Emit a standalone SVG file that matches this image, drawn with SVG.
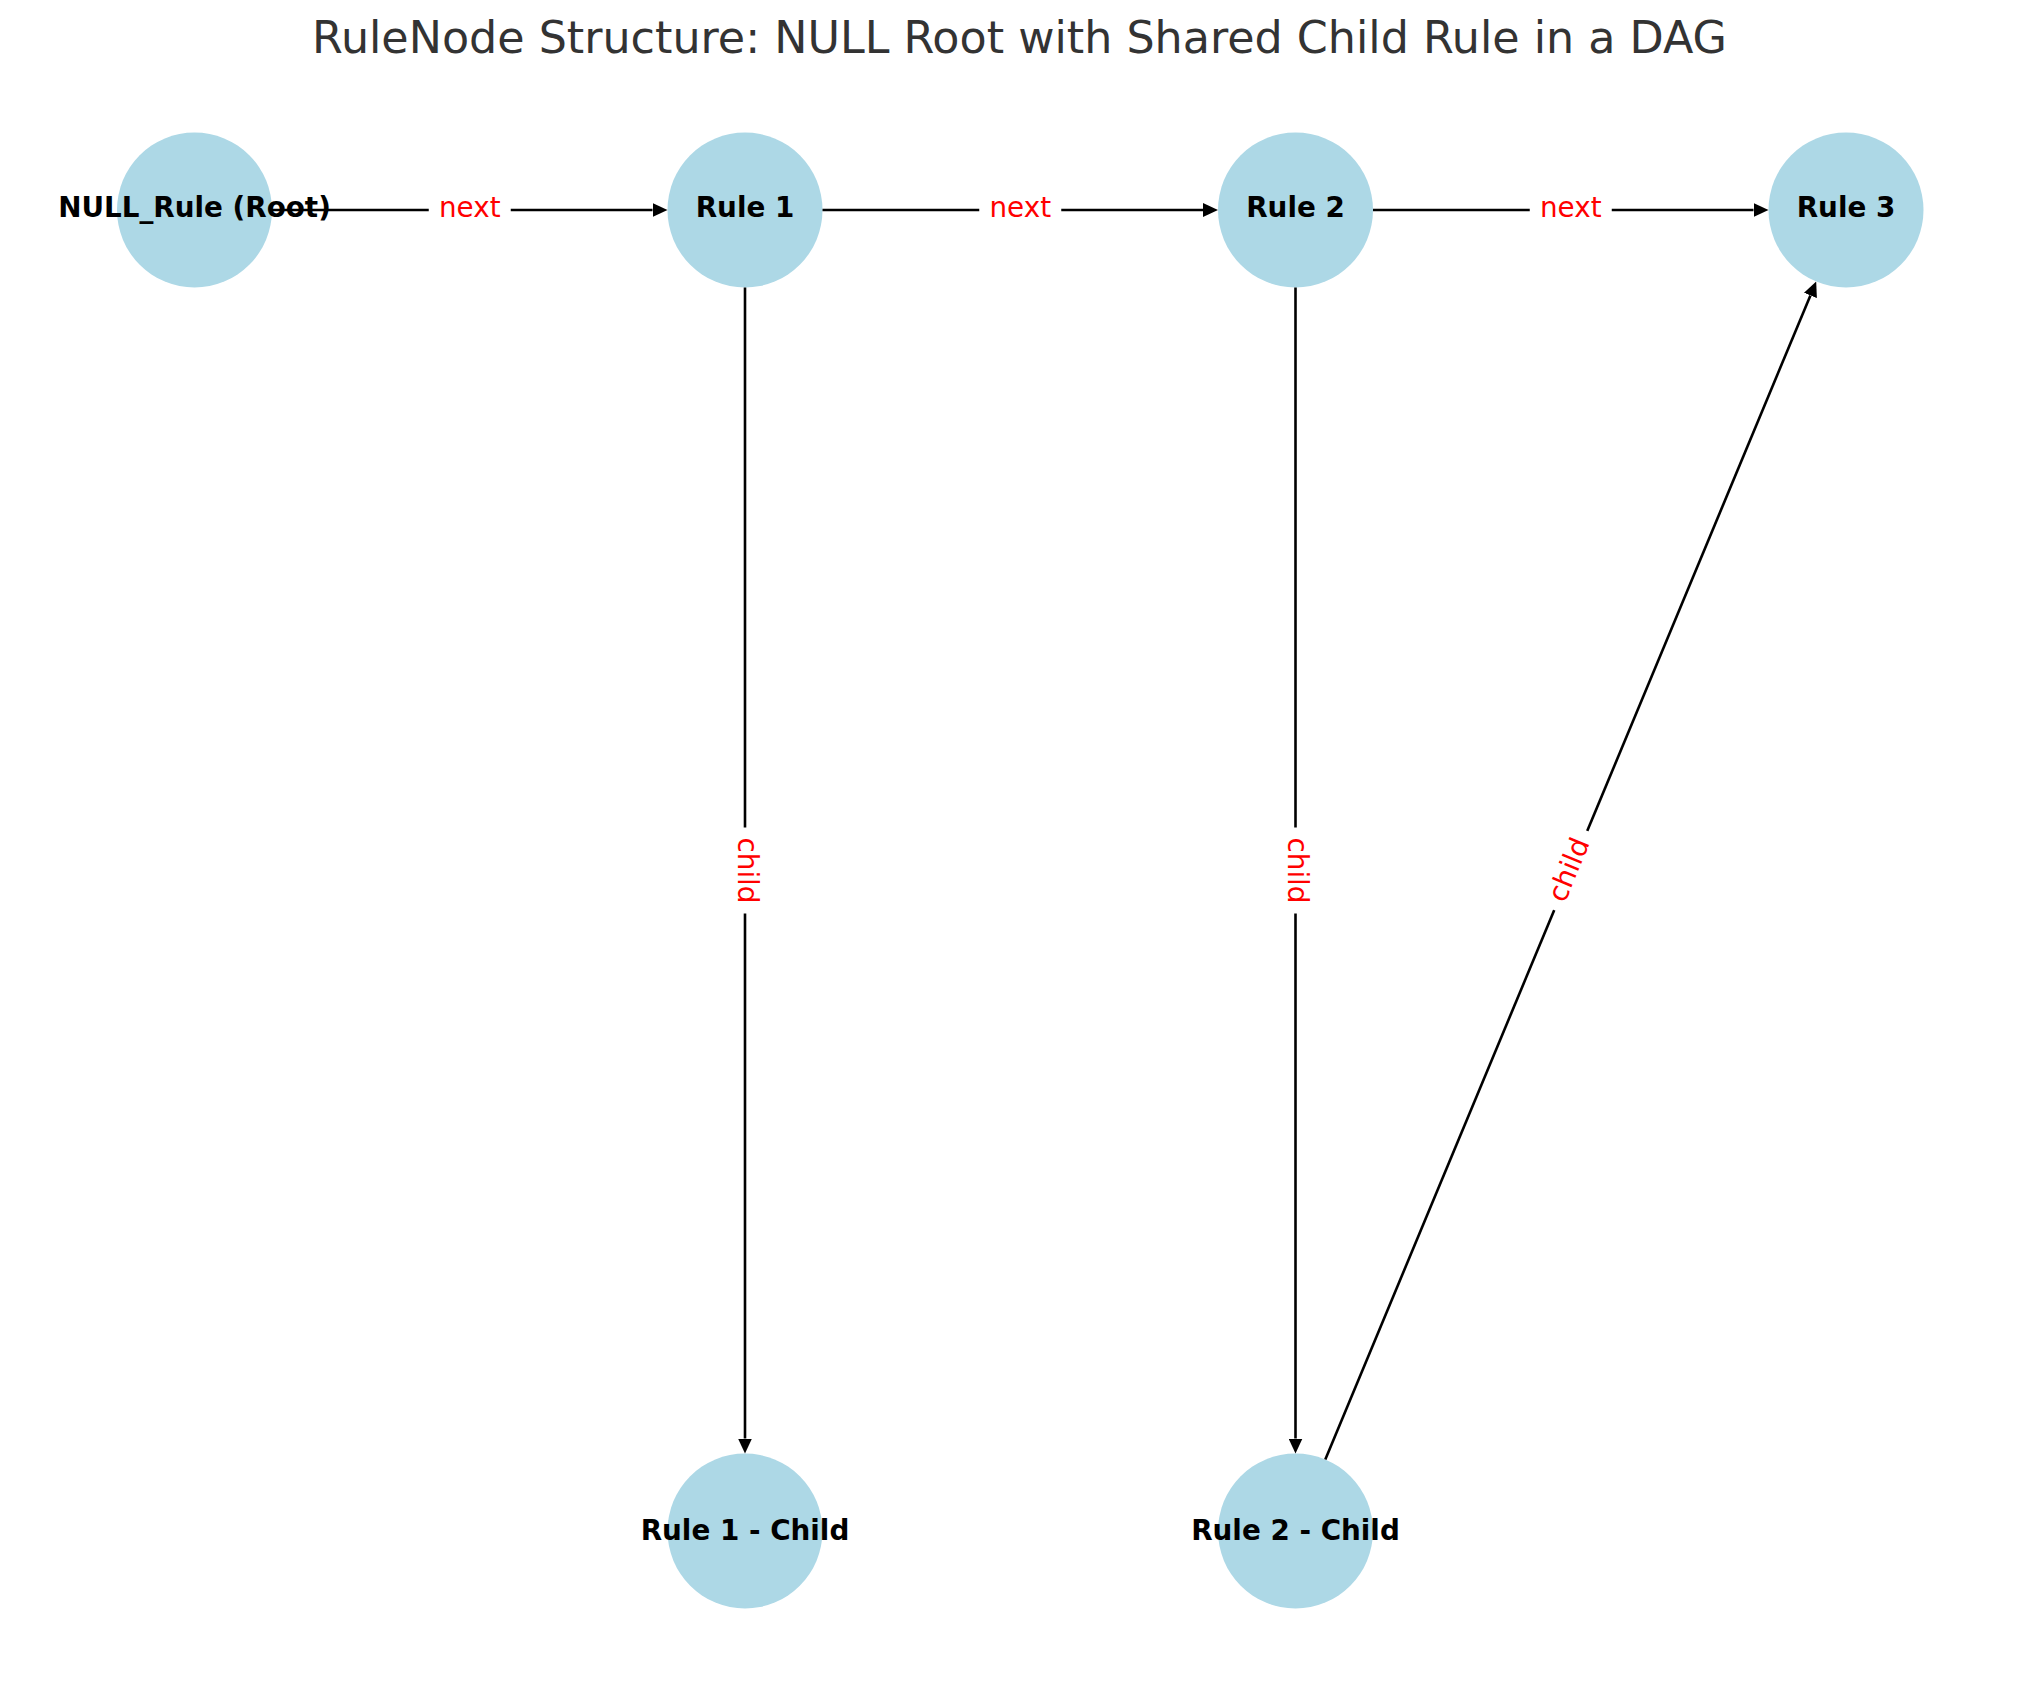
<svg xmlns="http://www.w3.org/2000/svg" width="2039" height="1690" viewBox="0 0 2039 1690">
<style>
  .node { fill: #ADD8E6; }
  .nlabel { font-family: "DejaVu Sans", "Liberation Sans", sans-serif; font-size: 27.8px; font-weight: bold; fill: #000; text-anchor: middle; }
  .edge { stroke: #000; stroke-width: 2.6; fill: none; marker-end: url(#ah); }
  .elabel { font-family: "DejaVu Sans", "Liberation Sans", sans-serif; font-size: 27.8px; fill: #FF0000; text-anchor: middle; }
  .lbox { fill: #FFFFFF; stroke: none; }
  .title { font-family: "DejaVu Sans", "Liberation Sans", sans-serif; font-size: 44.4px; fill: #333333; text-anchor: middle; }
</style>
<defs>
  <marker id="ah" markerUnits="userSpaceOnUse" markerWidth="15" markerHeight="14" viewBox="0 0 15 14" refX="0" refY="7" orient="auto">
    <path d="M0,0 L15,7 L0,14 Z" fill="#000"/>
  </marker>
</defs>
<rect x="0" y="0" width="2039" height="1690" fill="#FFFFFF"/>
<text class="title" x="1019.5" y="53">RuleNode Structure: NULL Root with Shared Child Rule in a DAG</text>

<g id="nodes-circles">
  <circle id="c-null" class="node" cx="194.5" cy="210" r="77.5"/>
  <circle id="c-r1" class="node" cx="745" cy="210" r="77.5"/>
  <circle id="c-r2" class="node" cx="1295.5" cy="210" r="77.5"/>
  <circle id="c-r3" class="node" cx="1846" cy="210" r="77.5"/>
  <circle id="c-r1c" class="node" cx="745" cy="1531" r="77.5"/>
  <circle id="c-r2c" class="node" cx="1295.5" cy="1531" r="77.5"/>
</g>

<g id="connectors">
  <line class="edge" x1="272" y1="210" x2="652.5" y2="210"/>
  <line class="edge" x1="822.5" y1="210" x2="1203" y2="210"/>
  <line class="edge" x1="1373" y1="210" x2="1753.5" y2="210"/>
  <line class="edge" x1="745" y1="287.5" x2="745" y2="1438.5"/>
  <line class="edge" x1="1295.5" y1="287.5" x2="1295.5" y2="1438.5"/>
  <line class="edge" x1="1325.31" y1="1459.46" x2="1810.42" y2="295.39"/>
  <g id="edge-labels">
    <g transform="translate(469.75,210)">
      <rect class="lbox" x="-41" y="-22" width="82" height="44" rx="6"/>
      <text class="elabel" x="0" y="7.2">next</text>
    </g>
    <g transform="translate(1020.25,210)">
      <rect class="lbox" x="-41" y="-22" width="82" height="44" rx="6"/>
      <text class="elabel" x="0" y="7.2">next</text>
    </g>
    <g transform="translate(1570.75,210)">
      <rect class="lbox" x="-41" y="-22" width="82" height="44" rx="6"/>
      <text class="elabel" x="0" y="7.2">next</text>
    </g>
    <g transform="translate(745,870.5) rotate(90)">
      <rect class="lbox" x="-43" y="-22" width="86" height="44" rx="6"/>
      <text class="elabel" x="0" y="7.2">child</text>
    </g>
    <g transform="translate(1295.5,870.5) rotate(90)">
      <rect class="lbox" x="-43" y="-22" width="86" height="44" rx="6"/>
      <text class="elabel" x="0" y="7.2">child</text>
    </g>
    <g transform="translate(1570.75,870.5) rotate(-67.38)">
      <rect class="lbox" x="-43" y="-22" width="86" height="44" rx="6"/>
      <text class="elabel" x="0" y="7.2">child</text>
    </g>
  </g>
</g>

<g id="node-null"><text class="nlabel" x="194.5" y="217.2">NULL_Rule (Root)</text></g>
<g id="node-rule1"><text class="nlabel" x="745" y="217.2">Rule 1</text></g>
<g id="node-rule2"><text class="nlabel" x="1295.5" y="217.2">Rule 2</text></g>
<g id="node-rule3"><text class="nlabel" x="1846" y="217.2">Rule 3</text></g>
<g id="node-rule1-child"><text class="nlabel" x="745" y="1539.5">Rule 1 - Child</text></g>
<g id="node-rule2-child"><text class="nlabel" x="1295.5" y="1539.5">Rule 2 - Child</text></g>
</svg>
